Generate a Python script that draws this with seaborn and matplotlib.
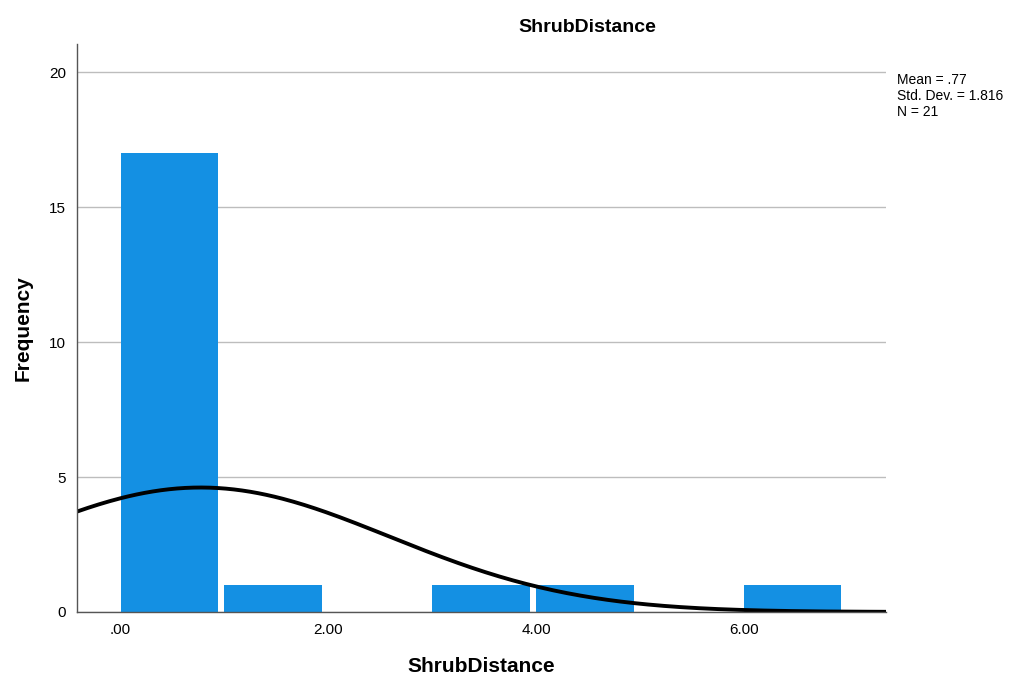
import numpy as np
import matplotlib
matplotlib.use("Agg")
import matplotlib.pyplot as plt
import seaborn as sns

# histogram counts
bin_edges = [0, 1, 2, 3, 4, 5, 6, 7]
bin_centers = [0.5, 1.5, 2.5, 3.5, 4.5, 5.5, 6.5]
counts = [17, 1, 0, 1, 1, 0, 1]

# summary stats shown in the chart
mean_val = 0.77
std_val = 1.816
n_obs = 21

x_ticks = [0, 2, 4, 6]
x_ticklabels = [".00", "2.00", "4.00", "6.00"]
y_ticks = [0, 5, 10, 15, 20]

sns.set_style("white")
plt.rcParams['font.family'] = ['Liberation Sans', 'DejaVu Sans']
plt.rcParams['text.color'] = 'black'
plt.rcParams['axes.labelcolor'] = 'black'
plt.rcParams['xtick.color'] = 'black'
plt.rcParams['ytick.color'] = 'black'

fig = plt.figure(figsize=(10.15, 6.79), dpi=100)
ax = fig.add_axes([0.0759, 0.0987, 0.797, 0.836])

sns.histplot(x=bin_centers, weights=counts, bins=bin_edges, ax=ax,
             color='#1490e3', alpha=1, linewidth=0)
# SPSS style: gap on the right side of each bar
for p in ax.patches:
    p.set_width(p.get_width() * 0.94)

# normal curve scaled to counts
xs = np.linspace(-0.42, 7.37, 300)
ys = n_obs * 1.0 * np.exp(-0.5 * ((xs - mean_val) / std_val) ** 2) / (std_val * np.sqrt(2 * np.pi))
sns.lineplot(x=xs, y=ys, ax=ax, color='black', linewidth=2.8)

ax.set_xlim(-0.42, 7.37)
ax.set_ylim(0, 21.04)
ax.set_xticks(x_ticks)
ax.set_xticklabels(x_ticklabels, fontsize=11)
ax.set_yticks(y_ticks)
ax.set_yticklabels([str(v) for v in y_ticks], fontsize=11)
ax.tick_params(length=0, pad=8)
ax.yaxis.grid(True, color='#bdbdbd', linewidth=1)
ax.set_axisbelow(True)
for s in ['top', 'right']:
    ax.spines[s].set_visible(False)
for s in ['left', 'bottom']:
    ax.spines[s].set_color('#555555')
    ax.spines[s].set_linewidth(1)

ax.set_xlabel('ShrubDistance', fontsize=15, fontweight='bold', labelpad=14)
ax.set_ylabel('Frequency', fontsize=15, fontweight='bold', labelpad=12)

fig.text(587 / 1015, 1 - 27 / 679, 'ShrubDistance', ha='center', va='center',
         fontsize=14, fontweight='bold')
fig.text(897 / 1015, 1 - 73 / 679,
         f"Mean = .{int(round(mean_val * 100)):02d}\nStd. Dev. = {std_val}\nN = {n_obs}",
         ha='left', va='top', fontsize=10, linespacing=1.2)

fig.savefig('out.png', dpi=100)
